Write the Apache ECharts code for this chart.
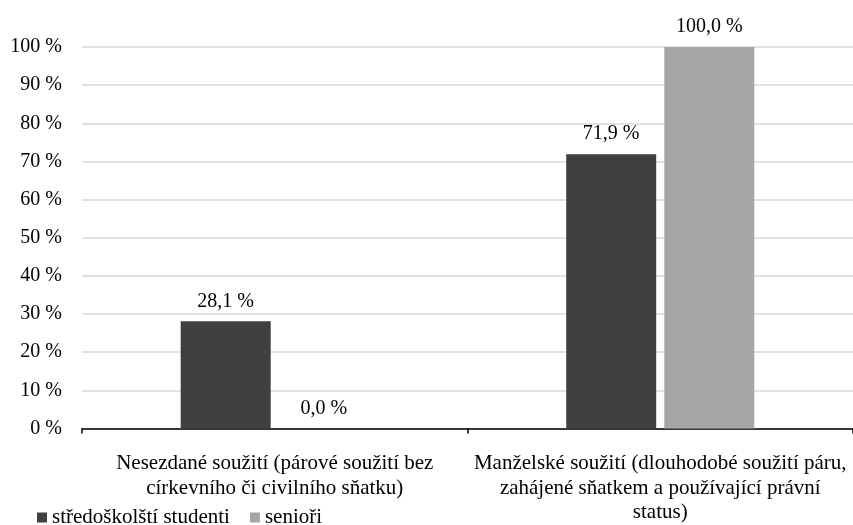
<!DOCTYPE html>
<html>
<head>
<meta charset="utf-8">
<script src="https://cdn.jsdelivr.net/npm/echarts@6/dist/echarts.min.js"></script>
<style>html,body{margin:0;padding:0;background:#fff}#c{width:853px;height:525px}</style>
</head>
<body>
<div id="c"></div>
<script>
const categories = [
  'Nesezdané soužití (párové soužití bez\ncírkevního či civilního sňatku)',
  'Manželské soužití (dlouhodobé soužití páru,\nzahájené sňatkem a používající právní\nstatus)'
];
const seriesNames = ['středoškolští studenti', 'senioři'];
const studenti = [28.1, 71.9];
const seniori = [0.0, 100.0];
const yTicks = [0, 10, 20, 30, 40, 50, 60, 70, 80, 90, 100];

const font = 'Liberation Serif, Times New Roman, serif';
const chart = echarts.init(document.getElementById('c'));
const lbl = {
  show: true, position: 'top', distance: 10,
  fontFamily: font, fontSize: 20, color: '#000',
  formatter: p => p.value.toFixed(1).replace('.', ',') + ' %'
};
chart.setOption({
  animation: false,
  textStyle: { fontFamily: font },
  grid: { left: 82, right: 0, top: 47, bottom: 95, containLabel: false },
  legend: {
    left: 32, top: 502, itemWidth: 10, itemHeight: 10, itemGap: 20,
    icon: 'rect',
    textStyle: { fontFamily: font, fontSize: 21, color: '#000' },
    data: seriesNames
  },
  xAxis: {
    type: 'category', data: categories,
    axisLine: { lineStyle: { color: '#000', width: 1.5 } },
    axisTick: { show: true, length: 5, lineStyle: { color: '#000', width: 1.5 } },
    axisLabel: { fontFamily: font, fontSize: 21, color: '#000', lineHeight: 24.5, margin: 23, interval: 0 }
  },
  yAxis: {
    type: 'value', min: yTicks[0], max: yTicks[yTicks.length - 1], interval: 10,
    axisLine: { show: false }, axisTick: { show: false },
    splitLine: { lineStyle: { color: '#d9d9d9', width: 1.5 } },
    axisLabel: { fontFamily: font, fontSize: 20, color: '#000', margin: 20, formatter: v => v + ' %' }
  },
  series: [
    { name: seriesNames[0], type: 'bar', data: studenti, barWidth: 90, barGap: '9%',
      itemStyle: { color: '#404040' }, label: lbl },
    { name: seriesNames[1], type: 'bar', data: seniori, barWidth: 90,
      itemStyle: { color: '#a6a6a6' }, label: lbl }
  ]
});
</script>
</body>
</html>
